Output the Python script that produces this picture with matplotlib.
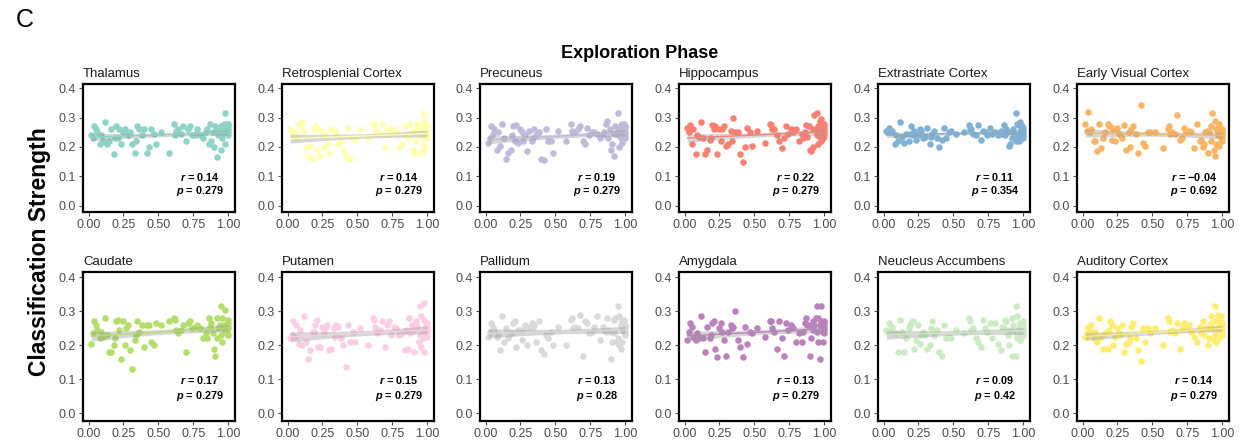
import numpy as np
import matplotlib
matplotlib.use('Agg')
import matplotlib.pyplot as plt

plt.rcParams['font.family'] = ['Liberation Sans', 'DejaVu Sans']
plt.rcParams['mathtext.fontset'] = 'custom'
plt.rcParams['mathtext.it'] = 'Liberation Sans:italic:bold'
plt.rcParams['mathtext.rm'] = 'Liberation Sans:bold'

regioes = ['Thalamus', 'Retrosplenial Cortex', 'Precuneus', 'Hippocampus',
           'Extrastriate Cortex', 'Early Visual Cortex',
           'Caudate', 'Putamen', 'Pallidum', 'Amygdala',
           'Neucleus Accumbens', 'Auditory Cortex']

cores = ['#8DD3C7', '#FFFFB3', '#BEBADA', '#FB8072', '#80B1D3', '#FDB462',
         '#B3DE69', '#FCCDE5', '#D9D9D9', '#BC80BD', '#CCEBC5', '#FFED6F']

r_vals = ['0.14', '0.14', '0.19', '0.22', '0.11', '\u22120.04',
          '0.17', '0.15', '0.13', '0.13', '0.09', '0.14']
p_vals = ['0.279', '0.279', '0.279', '0.279', '0.354', '0.692',
          '0.279', '0.279', '0.28', '0.279', '0.42', '0.279']

# progresso na fase de exploracao (mesmo para todas as regioes)
progresso = [
    0.02, 0.04, 0.05, 0.06, 0.08, 0.10, 0.12, 0.13, 0.15, 0.16,
    0.18, 0.20, 0.21, 0.22, 0.23, 0.25, 0.26, 0.28, 0.30, 0.31,
    0.33, 0.35, 0.36, 0.38, 0.40, 0.42, 0.43, 0.45, 0.48, 0.52,
    0.58, 0.61, 0.62, 0.64, 0.66, 0.68, 0.70, 0.71, 0.73, 0.76,
    0.78, 0.80, 0.82, 0.84, 0.86, 0.87, 0.88, 0.90, 0.91, 0.92,
    0.92, 0.93, 0.94, 0.95, 0.95, 0.96, 0.96, 0.97, 0.97, 0.98,
    0.98, 0.98, 0.99, 0.99, 0.99, 1.00, 1.00, 1.00, 1.00, 1.00,
    0.03, 0.09, 0.19, 0.27, 0.34, 0.47, 0.63, 0.74, 0.85, 0.89,
]

thalamus = [
    0.24, 0.27, 0.26, 0.25, 0.21, 0.22, 0.285, 0.21, 0.22, 0.26,
    0.175, 0.27, 0.23, 0.26, 0.21, 0.25, 0.26, 0.24, 0.25, 0.21,
    0.18, 0.27, 0.26, 0.24, 0.26, 0.18, 0.20, 0.26, 0.21, 0.25,
    0.18, 0.28, 0.24, 0.26, 0.245, 0.27, 0.22, 0.26, 0.27, 0.24,
    0.26, 0.24, 0.23, 0.25, 0.21, 0.28, 0.22, 0.20, 0.27, 0.26,
    0.165, 0.24, 0.25, 0.19, 0.27, 0.26, 0.23, 0.28, 0.25, 0.315,
    0.26, 0.21, 0.27, 0.25, 0.28, 0.27, 0.26, 0.25, 0.28, 0.24,
    0.23, 0.24, 0.23, 0.25, 0.22, 0.245, 0.255, 0.24, 0.26, 0.25,
]
retrosplenial = [
    0.26, 0.255, 0.25, 0.23, 0.28, 0.285, 0.255, 0.20, 0.17, 0.205,
    0.16, 0.27, 0.19, 0.26, 0.17, 0.25, 0.20, 0.21, 0.18, 0.26,
    0.26, 0.25, 0.21, 0.22, 0.19, 0.17, 0.265, 0.16, 0.225, 0.26,
    0.23, 0.28, 0.275, 0.25, 0.245, 0.28, 0.20, 0.26, 0.24, 0.26,
    0.25, 0.20, 0.21, 0.27, 0.245, 0.23, 0.28, 0.19, 0.18, 0.26,
    0.22, 0.28, 0.25, 0.27, 0.18, 0.26, 0.24, 0.315, 0.23, 0.29,
    0.205, 0.19, 0.27, 0.265, 0.25, 0.26, 0.24, 0.27, 0.23, 0.275,
    0.24, 0.27, 0.26, 0.24, 0.25, 0.23, 0.255, 0.26, 0.24, 0.25,
]
precuneus = [
    0.215, 0.27, 0.245, 0.26, 0.19, 0.205, 0.28, 0.23, 0.16, 0.18,
    0.19, 0.27, 0.22, 0.275, 0.215, 0.26, 0.25, 0.24, 0.185, 0.255,
    0.22, 0.26, 0.24, 0.25, 0.16, 0.155, 0.26, 0.22, 0.18, 0.255,
    0.22, 0.28, 0.255, 0.25, 0.26, 0.27, 0.22, 0.21, 0.265, 0.25,
    0.25, 0.245, 0.23, 0.24, 0.28, 0.29, 0.23, 0.19, 0.21, 0.245,
    0.17, 0.27, 0.25, 0.315, 0.24, 0.26, 0.20, 0.275, 0.23, 0.28,
    0.215, 0.26, 0.25, 0.28, 0.24, 0.27, 0.25, 0.23, 0.265, 0.24,
    0.23, 0.25, 0.24, 0.22, 0.23, 0.22, 0.25, 0.24, 0.25, 0.26,
]
hippocampus = [
    0.265, 0.275, 0.21, 0.26, 0.175, 0.235, 0.285, 0.23, 0.175, 0.19,
    0.225, 0.275, 0.26, 0.27, 0.175, 0.26, 0.22, 0.27, 0.205, 0.21,
    0.255, 0.30, 0.25, 0.25, 0.175, 0.15, 0.20, 0.265, 0.205, 0.255,
    0.215, 0.28, 0.275, 0.26, 0.24, 0.22, 0.195, 0.23, 0.27, 0.26,
    0.25, 0.26, 0.22, 0.245, 0.25, 0.275, 0.235, 0.19, 0.185, 0.26,
    0.20, 0.31, 0.255, 0.315, 0.24, 0.27, 0.21, 0.29, 0.235, 0.295,
    0.22, 0.26, 0.28, 0.245, 0.23, 0.27, 0.25, 0.24, 0.26, 0.28,
    0.25, 0.24, 0.23, 0.26, 0.22, 0.25, 0.26, 0.245, 0.23, 0.27,
]
extrastriate = [
    0.255, 0.265, 0.25, 0.255, 0.21, 0.22, 0.285, 0.235, 0.215, 0.245,
    0.22, 0.27, 0.24, 0.255, 0.225, 0.24, 0.26, 0.23, 0.235, 0.265,
    0.21, 0.245, 0.255, 0.23, 0.20, 0.225, 0.265, 0.23, 0.255, 0.245,
    0.25, 0.275, 0.26, 0.245, 0.24, 0.275, 0.225, 0.255, 0.25, 0.265,
    0.245, 0.25, 0.24, 0.255, 0.275, 0.24, 0.26, 0.205, 0.21, 0.23,
    0.25, 0.26, 0.24, 0.315, 0.22, 0.28, 0.24, 0.275, 0.22, 0.285,
    0.235, 0.255, 0.26, 0.245, 0.27, 0.25, 0.24, 0.265, 0.23, 0.255,
    0.25, 0.24, 0.245, 0.255, 0.235, 0.25, 0.26, 0.24, 0.245, 0.25,
]
early_visual = [
    0.28, 0.32, 0.25, 0.26, 0.22, 0.185, 0.28, 0.195, 0.23, 0.25,
    0.28, 0.27, 0.225, 0.26, 0.22, 0.265, 0.245, 0.23, 0.275, 0.19,
    0.25, 0.26, 0.27, 0.245, 0.18, 0.345, 0.215, 0.205, 0.25, 0.25,
    0.195, 0.26, 0.27, 0.25, 0.245, 0.31, 0.225, 0.23, 0.265, 0.255,
    0.25, 0.195, 0.28, 0.22, 0.20, 0.21, 0.25, 0.18, 0.25, 0.22,
    0.27, 0.315, 0.19, 0.29, 0.17, 0.26, 0.21, 0.25, 0.24, 0.27,
    0.205, 0.28, 0.225, 0.25, 0.26, 0.235, 0.22, 0.255, 0.245, 0.26,
    0.255, 0.22, 0.27, 0.24, 0.20, 0.25, 0.245, 0.25, 0.225, 0.255,
]
caudate = [
    0.205, 0.27, 0.26, 0.245, 0.22, 0.225, 0.28, 0.23, 0.18, 0.18,
    0.20, 0.27, 0.275, 0.245, 0.16, 0.27, 0.20, 0.26, 0.185, 0.13,
    0.215, 0.27, 0.24, 0.26, 0.195, 0.26, 0.26, 0.21, 0.265, 0.26,
    0.27, 0.28, 0.275, 0.235, 0.245, 0.26, 0.18, 0.265, 0.27, 0.255,
    0.26, 0.25, 0.22, 0.235, 0.28, 0.255, 0.265, 0.19, 0.17, 0.28,
    0.22, 0.25, 0.26, 0.315, 0.23, 0.28, 0.21, 0.26, 0.24, 0.245,
    0.25, 0.305, 0.26, 0.24, 0.235, 0.25, 0.275, 0.255, 0.23, 0.265,
    0.235, 0.24, 0.22, 0.25, 0.23, 0.20, 0.245, 0.25, 0.22, 0.235,
]
putamen = [
    0.22, 0.27, 0.225, 0.26, 0.205, 0.20, 0.285, 0.21, 0.16, 0.185,
    0.24, 0.26, 0.275, 0.195, 0.195, 0.255, 0.235, 0.26, 0.185, 0.19,
    0.25, 0.26, 0.255, 0.22, 0.20, 0.135, 0.26, 0.21, 0.21, 0.25,
    0.20, 0.28, 0.275, 0.235, 0.245, 0.27, 0.195, 0.26, 0.27, 0.255,
    0.25, 0.23, 0.235, 0.185, 0.19, 0.28, 0.235, 0.245, 0.18, 0.26,
    0.27, 0.255, 0.21, 0.315, 0.23, 0.285, 0.195, 0.24, 0.22, 0.275,
    0.325, 0.18, 0.26, 0.25, 0.235, 0.265, 0.24, 0.255, 0.225, 0.245,
    0.23, 0.245, 0.24, 0.25, 0.225, 0.24, 0.255, 0.23, 0.245, 0.26,
]
pallidum = [
    0.225, 0.265, 0.255, 0.245, 0.225, 0.185, 0.285, 0.21, 0.25, 0.22,
    0.235, 0.265, 0.27, 0.195, 0.245, 0.245, 0.215, 0.26, 0.20, 0.255,
    0.265, 0.26, 0.21, 0.27, 0.185, 0.175, 0.23, 0.22, 0.20, 0.255,
    0.20, 0.275, 0.28, 0.255, 0.25, 0.29, 0.17, 0.27, 0.265, 0.24,
    0.255, 0.285, 0.215, 0.255, 0.24, 0.28, 0.245, 0.16, 0.21, 0.275,
    0.235, 0.28, 0.21, 0.315, 0.22, 0.285, 0.20, 0.26, 0.19, 0.27,
    0.25, 0.21, 0.275, 0.245, 0.24, 0.26, 0.23, 0.255, 0.25, 0.24,
    0.24, 0.23, 0.235, 0.245, 0.255, 0.24, 0.25, 0.235, 0.245, 0.24,
]
amygdala = [
    0.215, 0.265, 0.255, 0.225, 0.215, 0.22, 0.285, 0.22, 0.18, 0.255,
    0.22, 0.265, 0.27, 0.19, 0.165, 0.25, 0.265, 0.215, 0.17, 0.24,
    0.26, 0.255, 0.30, 0.215, 0.195, 0.165, 0.255, 0.205, 0.235, 0.25,
    0.225, 0.27, 0.27, 0.24, 0.19, 0.27, 0.22, 0.17, 0.265, 0.26,
    0.25, 0.21, 0.235, 0.21, 0.265, 0.28, 0.26, 0.17, 0.22, 0.27,
    0.245, 0.26, 0.28, 0.315, 0.24, 0.28, 0.21, 0.26, 0.16, 0.27,
    0.26, 0.315, 0.24, 0.21, 0.25, 0.265, 0.235, 0.27, 0.255, 0.245,
    0.24, 0.235, 0.23, 0.24, 0.25, 0.24, 0.25, 0.245, 0.24, 0.26,
]
accumbens = [
    0.245, 0.265, 0.24, 0.255, 0.235, 0.18, 0.275, 0.24, 0.18, 0.22,
    0.25, 0.265, 0.27, 0.19, 0.215, 0.26, 0.205, 0.24, 0.23, 0.19,
    0.20, 0.27, 0.23, 0.245, 0.18, 0.17, 0.26, 0.22, 0.22, 0.245,
    0.235, 0.28, 0.27, 0.25, 0.22, 0.21, 0.195, 0.275, 0.25, 0.265,
    0.22, 0.265, 0.205, 0.185, 0.25, 0.275, 0.27, 0.20, 0.245, 0.17,
    0.28, 0.26, 0.24, 0.315, 0.17, 0.285, 0.22, 0.255, 0.23, 0.265,
    0.215, 0.25, 0.24, 0.26, 0.225, 0.245, 0.26, 0.23, 0.27, 0.24,
    0.24, 0.235, 0.26, 0.23, 0.25, 0.225, 0.245, 0.24, 0.255, 0.23,
]
auditory = [
    0.225, 0.255, 0.24, 0.26, 0.22, 0.21, 0.28, 0.225, 0.19, 0.235,
    0.19, 0.27, 0.26, 0.20, 0.225, 0.25, 0.235, 0.26, 0.18, 0.205,
    0.21, 0.255, 0.265, 0.22, 0.185, 0.155, 0.25, 0.21, 0.235, 0.25,
    0.20, 0.28, 0.27, 0.245, 0.235, 0.265, 0.19, 0.25, 0.265, 0.26,
    0.24, 0.225, 0.21, 0.255, 0.27, 0.23, 0.25, 0.20, 0.22, 0.265,
    0.285, 0.25, 0.215, 0.315, 0.23, 0.27, 0.21, 0.29, 0.245, 0.27,
    0.22, 0.255, 0.26, 0.245, 0.285, 0.25, 0.24, 0.265, 0.23, 0.26,
    0.235, 0.24, 0.245, 0.23, 0.22, 0.25, 0.24, 0.255, 0.235, 0.25,
]

forca = [thalamus, retrosplenial, precuneus, hippocampus, extrastriate,
         early_visual, caudate, putamen, pallidum, amygdala, accumbens,
         auditory]


def ajuste_linear(x, y):
    # reta de minimos quadrados com faixa de confianca de 95%
    x = np.asarray(x)
    y = np.asarray(y)
    n = len(x)
    b, a = np.polyfit(x, y, 1)
    resid = y - (a + b * x)
    s = np.sqrt(np.sum(resid ** 2) / (n - 2))
    xs = np.linspace(x.min(), x.max(), 80)
    se = s * np.sqrt(1 / n + (xs - x.mean()) ** 2 / np.sum((x - x.mean()) ** 2))
    ys = a + b * xs
    return xs, ys, ys - 1.99 * se, ys + 1.99 * se


fig = plt.figure(figsize=(12.41, 4.45), dpi=100)

lefts = [83, 282, 480, 679, 878, 1077]
largura = 152
linhas = [(84, 212), (272, 421)]

for i, nome in enumerate(regioes):
    lin, col = divmod(i, 6)
    topo, base = linhas[lin]
    ax = fig.add_axes([lefts[col] / 1241, 1 - base / 445,
                       largura / 1241, (base - topo) / 445])

    ax.scatter(progresso, forca[i], s=22, color=cores[i], linewidths=0,
               zorder=2)
    xs, ys, lo, hi = ajuste_linear(progresso, forca[i])
    ax.fill_between(xs, lo, hi, color='#999999', alpha=0.4, linewidth=0,
                    zorder=3)
    ax.plot(xs, ys, color=cores[i], linewidth=1.0, zorder=4)

    ax.set_xlim(-0.04, 1.05)
    ax.set_ylim(-0.022, 0.415)
    ax.set_xticks([0, 0.25, 0.5, 0.75, 1.0])
    ax.set_xticklabels(['0.00', '0.25', '0.50', '0.75', '1.00'])
    ax.set_yticks([0, 0.1, 0.2, 0.3, 0.4])
    ax.set_yticklabels(['0.0', '0.1', '0.2', '0.3', '0.4'])
    ax.tick_params(labelsize=9, colors='#4D4D4D', length=3, width=0.8,
                   pad=2)
    for sp in ax.spines.values():
        sp.set_linewidth(1.6)
        sp.set_color('black')

    ax.set_title(nome, loc='left', fontsize=9.5, color='#1A1A1A', pad=5,
                 x=0.0)

    ax.text(0.80, 0.098, '$r$ = ' + r_vals[i], ha='center', va='center',
            fontsize=7.8, fontweight='bold', color='black', zorder=5)
    ax.text(0.80, 0.050, '$p$ = ' + p_vals[i], ha='center', va='center',
            fontsize=7.8, fontweight='bold', color='black', zorder=5)

fig.text(640 / 1241, 1 - 54 / 445, 'Exploration Phase', ha='center',
         va='center', fontsize=13, fontweight='bold')
fig.text(40 / 1241, 1 - 252 / 445, 'Classification Strength', ha='center',
         va='center', rotation=90, fontsize=16.5, fontweight='bold')
fig.text(16 / 1241, 1 - 20 / 445, 'C', ha='left', va='center', fontsize=18)

fig.savefig('out.png', dpi=100)
plt.close(fig)
